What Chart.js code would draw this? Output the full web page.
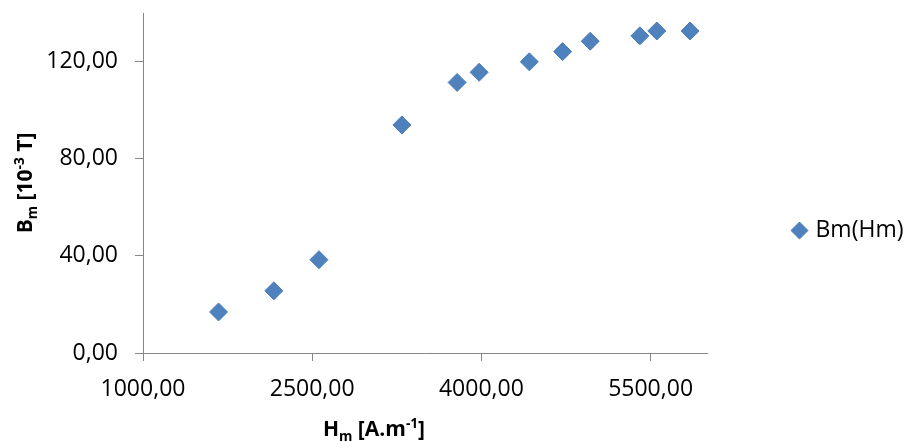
<!DOCTYPE html>
<html>
<head>
<meta charset="utf-8">
<script src="https://cdn.jsdelivr.net/npm/chart.js@4/dist/chart.umd.min.js"></script>
<style>
  html, body { margin: 0; padding: 0; background: #fff; }
  #wrap { width: 905px; height: 442px; }
</style>
</head>
<body>
<div id="wrap"><canvas id="grafBH"></canvas></div>
<script>
// valores
var seriesName = 'Bm(Hm)';
var hValues = [1670, 2160, 2560, 3295, 3785, 3980, 4425, 4720, 4965, 5405, 5555, 5850];
var bValues = [16.9, 25.6, 38.4, 93.9, 111.4, 115.6, 119.9, 124.1, 128.4, 130.6, 132.6, 132.6];
var xTicks = [1000, 2500, 4000, 5500];
var yTicks = [0, 40, 80, 120];

var pontos = hValues.map(function (h, i) { return { x: h, y: bValues[i] }; });

var fonte = "'Open Sans', 'Liberation Sans', sans-serif";
var cinza = '#868686';

function formata(v) {
    return Number(v).toFixed(2).replace('.', ',');
}

// desenha texto com índice / expoente (títulos dos eixos)
function textoRico(ctx, partes, cx, cy, size, angle) {
    ctx.save();
    ctx.translate(cx, cy);
    ctx.rotate(angle);
    ctx.fillStyle = '#000';
    ctx.textAlign = 'left';
    ctx.textBaseline = 'alphabetic';
    var larg = [];
    var total = 0;
    partes.forEach(function (p) {
        var s = (p.sub || p.sup) ? size * 0.65 : size;
        ctx.font = 'bold ' + s + 'px ' + fonte;
        var w = ctx.measureText(p.t).width;
        larg.push(w);
        total += w;
    });
    var x = -total / 2;
    partes.forEach(function (p, i) {
        var s = (p.sub || p.sup) ? size * 0.65 : size;
        ctx.font = 'bold ' + s + 'px ' + fonte;
        var dy = p.sub ? size * 0.22 : (p.sup ? -size * 0.38 : 0);
        ctx.fillText(p.t, x, dy);
        x += larg[i];
    });
    ctx.restore();
}

var titulos = {
    id: 'titulos',
    beforeLayout: function (chart) {
        var lg = chart.legend;
        if (lg && !lg._fixo) {
            var fit = lg.fit;
            lg.fit = function () { fit.call(this); this.width = 198; };
            lg._fixo = true;
        }
    },
    afterLayout: function (chart) {
        // legenda um pouco abaixo do centro, como no Excel
        chart.legend.top += 3;
        chart.legend.bottom += 3;
    },
    afterDraw: function (chart) {
        var ctx = chart.ctx;
        textoRico(ctx, [{ t: 'H' }, { t: 'm', sub: true }, { t: ' [A.m' }, { t: '-1', sup: true }, { t: ']' }],
            374, 436, 21, 0);
        textoRico(ctx, [{ t: 'B' }, { t: 'm', sub: true }, { t: ' [10' }, { t: '-3', sup: true }, { t: ' T]' }],
            32, 183, 21, -Math.PI / 2);
    }
};

document.addEventListener('DOMContentLoaded', function () {
    var ctx = document.getElementById('grafBH').getContext('2d');

    new Chart(ctx, {
        type: 'scatter',
        data: {
            datasets: [{
                label: seriesName,
                data: pontos,
                pointStyle: 'rectRot',
                pointRadius: 9,
                pointHoverRadius: 9,
                backgroundColor: '#4F81BD',
                borderColor: '#4A7EBB',
                borderWidth: 1
            }]
        },
        options: {
            responsive: true,
            maintainAspectRatio: false,
            animation: false,
            layout: { padding: { top: 13, left: 0, right: 0, bottom: 0 } },
            scales: {
                x: {
                    type: 'linear',
                    min: 1000,
                    max: 6000,
                    afterBuildTicks: function (s) { s.ticks = xTicks.map(function (v) { return { value: v }; }); },
                    afterFit: function (s) { s.height = 89; },
                    grid: { drawOnChartArea: false, drawTicks: true, tickLength: 8, color: cinza },
                    border: { display: true, color: cinza, width: 1 },
                    ticks: {
                        padding: 15,
                        maxRotation: 0,
                        color: '#000',
                        font: { family: fonte, size: 23 },
                        callback: formata
                    }
                },
                y: {
                    min: 0,
                    max: 140,
                    afterBuildTicks: function (s) { s.ticks = yTicks.map(function (v) { return { value: v }; }); },
                    afterFit: function (s) { s.width = 143; s.paddingTop = 0; s.paddingBottom = 0; },
                    grid: { drawOnChartArea: false, drawTicks: true, tickLength: 8, color: cinza },
                    border: { display: true, color: cinza, width: 1 },
                    ticks: {
                        padding: 17,
                        color: '#000',
                        font: { family: fonte, size: 23 },
                        callback: formata
                    }
                }
            },
            plugins: {
                legend: {
                    position: 'right',
                    labels: {
                        usePointStyle: true,
                        boxWidth: 9,
                        boxHeight: 12,
                        padding: 88,
                        color: '#000',
                        font: { family: fonte, size: 23 }
                    }
                },
                tooltip: { enabled: false }
            }
        },
        plugins: [titulos]
    });
});
</script>
</body>
</html>
